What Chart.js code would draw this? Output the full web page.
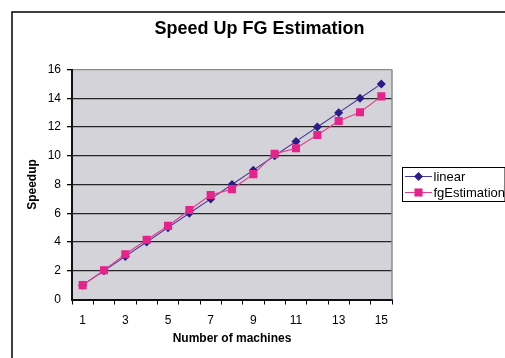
<!DOCTYPE html>
<html>
<head>
<meta charset="utf-8">
<script src="https://cdn.jsdelivr.net/npm/chart.js@4"></script>
<style>
  html, body { margin: 0; padding: 0; background: #ffffff; }
  #wrap { width: 505px; height: 358px; position: relative; }
</style>
</head>
<body>
<div id="wrap"><canvas id="c" width="505" height="358"></canvas></div>
<script>
const chartTitle = "Speed Up FG Estimation";
const xAxisTitle = "Number of machines";
const yAxisTitle = "Speedup";
const machines = [1, 2, 3, 4, 5, 6, 7, 8, 9, 10, 11, 12, 13, 14, 15];
const linear = [1, 2, 3, 4, 5, 6, 7, 8, 9, 10, 11, 12, 13, 14, 15];
const fgEstimation = [1, 2.03, 3.15, 4.15, 5.12, 6.22, 7.27, 7.68, 8.72, 10.13, 10.52, 11.45, 12.42, 13.02, 14.13];
const yTickMin = 0, yTickMax = 16, yTickStep = 2;
const seriesNames = ["linear", "fgEstimation"];

const FONT = "'Liberation Sans', Arial, Helvetica, sans-serif";
const linearLine = '#4a3a9e', linearMark = '#2c1a86';
const fgLine = '#e2408f', fgMark = '#e6238a';

const decor = {
  id: 'decor',
  beforeDraw(chart) {
    const {ctx, chartArea: a} = chart;
    ctx.save();
    ctx.fillStyle = '#d4d3d9';
    ctx.fillRect(a.left, a.top, a.right - a.left, a.bottom - a.top);
    ctx.restore();
  },
  afterDraw(chart) {
    const {ctx, chartArea: a} = chart;
    ctx.save();
    // outer chart border
    ctx.strokeStyle = '#000';
    ctx.lineWidth = 1.5;
    ctx.beginPath();
    ctx.moveTo(12, 400); ctx.lineTo(12, 12); ctx.lineTo(600, 12);
    ctx.stroke();
    // plot area right border
    ctx.strokeStyle = '#8c8c8c';
    ctx.lineWidth = 1.5;
    ctx.beginPath();
    ctx.moveTo(a.right, a.top); ctx.lineTo(a.right, a.bottom);
    ctx.stroke();
    // title
    ctx.fillStyle = '#000';
    ctx.font = "bold 18px " + FONT;
    ctx.textAlign = 'center';
    ctx.textBaseline = 'middle';
    ctx.fillText(chartTitle, 259.5, 29.5);
    // legend
    const lx = 402, ly = 167, lw = 102.5, lh = 34;
    ctx.strokeStyle = '#000';
    ctx.lineWidth = 1;
    ctx.strokeRect(lx + 0.5, ly + 0.5, lw, lh);
    const rows = [
      {name: seriesNames[0], line: linearLine, mark: linearMark, style: 'rectRot', r: 4.5, y: 176},
      {name: seriesNames[1], line: fgLine, mark: fgMark, style: 'rect', r: 5.7, y: 192}
    ];
    ctx.font = "13px " + FONT;
    ctx.textAlign = 'left';
    rows.forEach(rw => {
      ctx.strokeStyle = rw.line;
      ctx.lineWidth = 1;
      ctx.beginPath();
      ctx.moveTo(405, rw.y + 0.5); ctx.lineTo(432, rw.y + 0.5);
      ctx.stroke();
      ctx.fillStyle = rw.mark;
      Chart.helpers.drawPoint(ctx, {pointStyle: rw.style, radius: rw.r, rotation: 0, borderWidth: 0}, 418.5, rw.y + 0.5);
      ctx.fillStyle = '#000';
      ctx.fillText(rw.name, 433.5, rw.y + 1);
    });
    ctx.restore();
  }
};

new Chart(document.getElementById('c'), {
  type: 'line',
  data: {
    labels: machines,
    datasets: [
      {
        label: seriesNames[0], data: linear, order: 2,
        borderColor: linearLine, borderWidth: 1.2,
        pointStyle: 'rectRot', pointRadius: 4.5,
        pointBackgroundColor: linearMark, pointBorderColor: linearMark, pointBorderWidth: 0,
        tension: 0, fill: false
      },
      {
        label: seriesNames[1], data: fgEstimation, order: 1,
        borderColor: fgLine, borderWidth: 1.2,
        pointStyle: 'rect', pointRadius: 5.7,
        pointBackgroundColor: fgMark, pointBorderColor: fgMark, pointBorderWidth: 0,
        tension: 0, fill: false
      }
    ]
  },
  options: {
    responsive: false,
    animation: false,
    devicePixelRatio: 1,
    layout: { padding: { left: 12, right: 113, top: 69.5, bottom: 0 } },
    plugins: {
      legend: { display: false },
      title: { display: false },
      tooltip: { enabled: false }
    },
    scales: {
      x: {
        type: 'category',
        offset: true,
        afterFit(s) { s.height = 58.5; },
        grid: { display: true, offset: true, drawOnChartArea: false, drawTicks: true, tickLength: 5, tickColor: '#000', lineWidth: 1 },
        border: { display: true, color: '#111', width: 2 },
        ticks: {
          autoSkip: false, maxRotation: 0, minRotation: 0, padding: 9,
          color: '#000', font: { family: FONT, size: 12 },
          callback(value, index) { return index % 2 === 0 ? this.getLabelForValue(value) : ''; }
        },
        title: { display: true, text: xAxisTitle, color: '#000', font: { family: FONT, size: 12, weight: 'bold' }, padding: { top: 0, bottom: 12.5 } }
      },
      y: {
        type: 'linear',
        min: yTickMin, max: yTickMax,
        afterFit(s) { s.width = 60; },
        grid: {
          drawTicks: true, tickLength: 5, tickColor: '#000',
          color: ctx => (ctx.tick && ctx.tick.value === yTickMax) ? '#8c8c8c' : '#262626',
          lineWidth: ctx => (ctx.tick && ctx.tick.value === 0) ? 0 : 1.3
        },
        border: { display: true, color: '#111', width: 2 },
        ticks: { stepSize: yTickStep, padding: 6, color: '#000', font: { family: FONT, size: 12 } },
        title: { display: true, text: yAxisTitle, color: '#000', font: { family: FONT, size: 12, weight: 'bold' }, padding: { top: 13.8, bottom: 0 } }
      }
    }
  },
  plugins: [decor]
});
</script>
</body>
</html>
